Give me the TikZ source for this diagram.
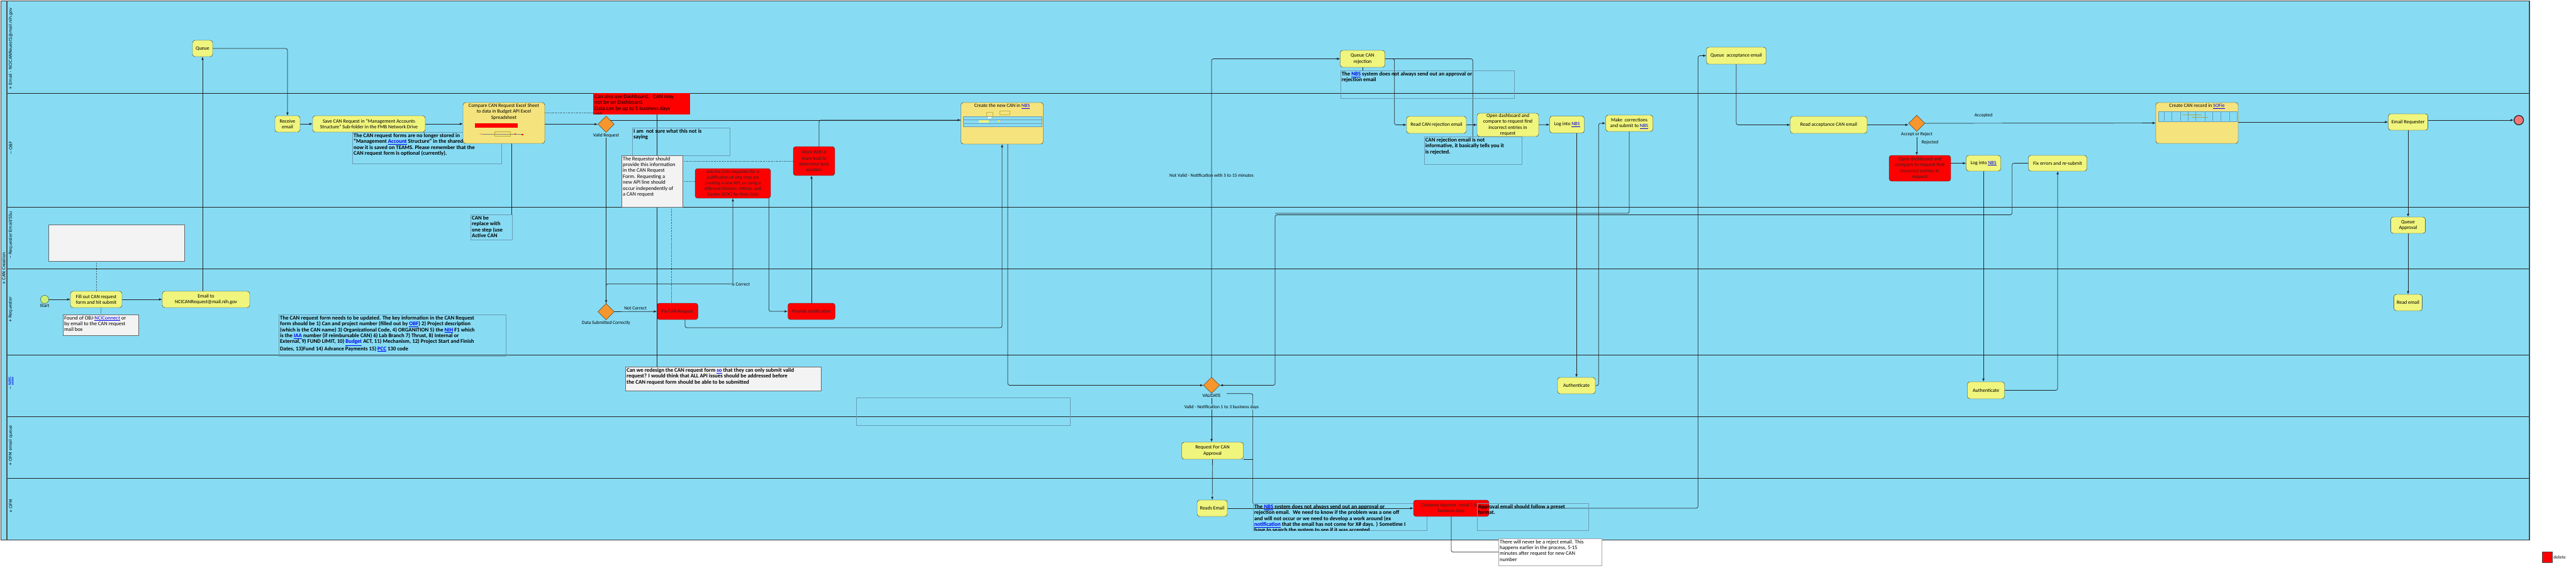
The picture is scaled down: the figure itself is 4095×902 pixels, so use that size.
\documentclass[tikz,border=0pt]{standalone}
\usepackage{fontspec}
\setmainfont{Carlito}
\newfontfamily\lanefont{DejaVu Sans}
\usetikzlibrary{shapes.geometric}
\tikzset{>=latex}
\pgfdeclarelayer{lanes}
\pgfdeclarelayer{edges}
\pgfsetlayers{lanes,edges,main}
\definecolor{laneblue}{RGB}{135,220,244}
\definecolor{taskyellow}{RGB}{240,245,125}
\definecolor{subyellow}{RGB}{245,228,125}
\definecolor{gateorange}{RGB}{247,150,45}
\definecolor{notegray}{RGB}{105,155,180}
\definecolor{notefill}{RGB}{243,243,243}
\definecolor{linkblue}{RGB}{0,0,238}
\definecolor{linecol}{RGB}{35,35,35}
\definecolor{startgreen}{RGB}{200,240,120}
\definecolor{endpink}{RGB}{240,120,120}
\newcommand{\lnk}[1]{\textcolor{linkblue}{\underline{#1}}}
\newcommand{\taskfont}{\fontsize{8}{9.3}\selectfont}
\newcommand{\redfont}{\fontsize{7.6}{9.2}\selectfont}
\newcommand{\notefont}{\bfseries\fontsize{8.8}{9.4}\selectfont}
\newcommand{\plainnotefont}{\fontsize{8.5}{9.4}\selectfont}
\newcommand{\edgefont}{\fontsize{7.5}{8}\selectfont}
\tikzset{
  task/.style={draw=linecol, fill=taskyellow, rounded corners=4pt, align=center, font=\taskfont, inner sep=1pt},
  redtask/.style={task, fill=red, text=black!85, font=\redfont},
  subproc/.style={task, fill=subyellow},
  sz/.style 2 args={minimum width=#1, minimum height=#2},
  gate/.style={diamond, draw=linecol, fill=gateorange, minimum width=26, minimum height=26, inner sep=0},
  glabel/.style={font=\edgefont, inner sep=1pt, fill=laneblue},
  elabel/.style={font=\edgefont, inner sep=1pt},
  note/.style={draw=notegray, anchor=north west, inner sep=0},
  graynote/.style={note, draw=black!60, fill=notefill},
  ntext/.style={anchor=north west, align=left, inner sep=2pt, font=\notefont},
  ptext/.style={ntext, font=\plainnotefont},
  flow/.style={->, draw=linecol, line width=.7pt, rounded corners=3pt},
  conn/.style={draw=linecol, line width=.7pt, rounded corners=3pt},
  assoc/.style={draw=linecol, line width=.6pt, dotted},
  thumb/.style={draw=notegray, fill=laneblue, line width=.4pt},
  lanelabel/.style={rotate=90, anchor=west, inner sep=0, font=\lanefont\fontsize{6.5}{7}\selectfont},
}

\begin{document}
\begin{tikzpicture}[x=1pt,y=-1pt]
\useasboundingbox (0,0) rectangle (4095,902);
% pool and lanes
\begin{pgfonlayer}{lanes}
	\fill[laneblue] (1,1) rectangle (4021,858);
	\foreach \y in {148,329,427,564,662,760}
		\draw[linecol] (11,\y) -- (4021,\y);
	\draw[linecol!90, line width=1pt] (1,1) rectangle (4021,858);
	\draw[linecol!80, line width=1.5pt] (11,1) -- (11,858);
	\draw[black!70, line width=2pt] (4021,1) -- (4021,858);
\end{pgfonlayer}
\node[lanelabel] (pool) at (6,453) {+ CAN Creation};
\node[lanelabel] (l-email) at (17,143) {+ Email - NCICANReuest1@mail.nih.gov};
\node[lanelabel] (l-obf) at (17,246) {− OBF};
\node[lanelabel] (l-ssu) at (17,412) {− Requester Email/SSu};
\node[lanelabel] (l-req) at (17,513) {+ Requester};
\node[lanelabel] (l-nbs) at (17,620) {− \lnk{NBS}};
\node[lanelabel] (l-ofmq) at (17,741) {+ OFM email queue};
\node[lanelabel] (l-ofm) at (17,816) {+ OFM};

% notes
\node[note, sz={237}{50}] (nstored) at (560,210) {};
\node[ntext] (nstored-t) at (nstored.north west) {The CAN request forms are no longer stored in\\``Management \lnk{Account} Structure'' in the shared drive,\\now it is saved on TEAMS. Please remember that the\\CAN request form is optional (currently).};
\node[graynote, sz={216}{58}] (nblank) at (77,357) {};
\node[note, sz={66}{40}] (nreplace) at (748,341) {};
\node[ntext] (nreplace-t) at (nreplace.north west) {CAN be\\replace with\\one step (use\\Active CAN};
\node[graynote, sz={120}{33}] (nfound) at (100,500) {};
\node[ptext] (nfound-t) at (nfound.north west) {Found of OBJ-\lnk{NCiConnect} or\\by email to the CAN request\\mail box};
\node[note, sz={361}{66}] (nkey) at (443,500) {};
\node[ntext] (nkey-t) at (nkey.north west) {The CAN request form needs to be updated. The key information in the CAN Request\\form should be 1) Can and project number (filled out by \lnk{OBF}) 2) Project description\\(which is the CAN name) 3) Organizational Code, 4) ORGANITION 5) the \lnk{NIH} F1 which\\is the \lnk{IAA} number (if reimbursable CAN) 6) Lab Branch 7) Thrust, 8) Internal or\\External, 9) FUND LIMIT, 10) \lnk{Budget} ACT, 11) Mechanism, 12) Project Start and Finish\\Dates, 13)Fund 14) Advance Payments 15) \lnk{PCC} 130 code};
\node[note, draw=red, fill=red, sz={153}{33}] (ndash) at (943,148) {};
\begin{scope}
	\clip (ndash.north west) rectangle (ndash.south east);
	\node[ptext, font=\fontsize{8.8}{9.4}\selectfont] (ndash-t) at (ndash.north west) {Can also use Dashboard.~~~CAN may\\not be on Dashboard.\\Data can be up to 5 business days\\old.};
\end{scope}
\node[note, sz={155}{44}] (nnotsure) at (1005,203) {};
\node[ntext] (nnotsure-t) at (nnotsure.north west) {I am~ not sure what this not is\\saying};
\node[graynote, sz={97}{82}] (nrequestor) at (988,247) {};
\node[ptext] (nrequestor-t) at (nrequestor.north west) {The Requestor should\\provide this information\\in the CAN Request\\Form. Requesting a\\new API line should\\occur independently of\\a CAN request};
\node[graynote, sz={311}{38}] (nredesign) at (994,583) {};
\node[ntext] (nredesign-t) at (nredesign.north west) {Can we redesign the CAN request form \lnk{so} that they can only submit valid\\request? I would think that ALL API issues should be addressed before\\the CAN request form should be able to be submitted};
\node[note, sz={340}{44}] (nempty) at (1361,632) {};
\node[note, sz={276}{44}] (nnbs1) at (2130.6,112) {};
\node[ntext] (nnbs1-t) at (nnbs1.north west) {The \lnk{NBS} system does not always send out an approval or\\rejection email};
\node[note, sz={155}{44}] (nrejinfo) at (2263.6,217) {};
\node[ntext] (nrejinfo-t) at (nrejinfo.north west) {CAN rejection email is not\\informative, it basically tells you it\\is rejected.};
\node[note, sz={276}{43}] (nnbs2) at (1991.6,800) {};
\begin{scope}
	\clip (nnbs2.north west) rectangle (nnbs2.south east);
	\node[ntext] (nnbs2-t) at (nnbs2.north west) {The \lnk{NBS} system does not always send out an approval or\\rejection email.~ We need to know if the problem was a one off\\and will not occur or we need to develop a work around (ex\\\lnk{notification} that the email has not come for X\# days. ) Sometime I\\have to search the system to see if it was accepted};
\end{scope}
\node[note, draw=black!35, fill=white, sz={164}{43}] (nnever) at (2382,856) {};
\node[ptext] (nnever-t) at (nnever.north west) {There will never be a reject email. This\\happens earlier in the process, 5-15\\minutes after request for new CAN\\number};

% requester
\node[circle, draw=linecol, fill=startgreen, minimum size=13, inner sep=0, label={[elabel]below:Start}] (start) at (71,476) {};
\node[task, sz={82}{26}] (fillout) at (153,476) {Fill out CAN request\\form and hit submit};
\node[task, sz={139}{26}] (emailto) at (327.5,476) {Email to\\NCICANRequest@mail.nih.gov};
\node[gate, label={[glabel]below:Data Submitted Correctly}] (dsc) at (963.5,495.5) {};
\node[redtask, sz={65}{26}] (fixcan) at (1077,495) {Fix CAN Request};
\node[redtask, sz={75}{26}] (provide) at (1290,495) {Provide Justification};
\node[task, sz={45}{26}] (readmail) at (3828,481) {Read email};

% email queue
\node[task, sz={32}{26}] (queue) at (322,77) {Queue};
\node[task, sz={71}{27}] (qrej) at (2166,93.5) {Queue CAN\\rejection};
\node[task, sz={95}{27}] (qacc) at (2760,88.5) {Queue~ acceptance email};

% OBF
\node[task, sz={40}{26}] (recv) at (457,197) {Receive\\email};
\node[task, sz={179}{26}] (save) at (586.5,197) {Save CAN Request in ``Management Accounts\\Structure'' Sub-folder in the FMB Network Drive};
\node[subproc, sz={130}{65}] (compare) at (801,195.5) {};
\node[font=\taskfont, align=center, anchor=north, inner sep=1pt] (compare-t) at ([yshift=-1]compare.north) {Compare CAN Request Excel Sheet\\to data in Budget API Excel\\Spreadsheet};
\fill[red] (754.5,196) rectangle (822.8,203);
\draw[gateorange, line width=.4pt] (764,213) circle (1.3);
\draw[black!50, line width=.3pt] (766,213) -- (830,213);
\draw[olive!70, line width=.3pt] (786,209.5) rectangle (811,216);
\fill[red] (819,213) circle (1.2);
\fill[red] (829,213) rectangle (832,215);
\node[gate, label={[glabel]below:Valid Request}] (vreq) at (963.5,197.5) {};
\node[redtask, sz={66}{46}] (work) at (1294,256) {Work With X\\team lead to\\determine best\\solution};
\node[redtask, sz={120}{47}, font=\fontsize{7.4}{9.2}\selectfont] (ask) at (1165,291.5) {Ask the CAN requester for a\\justification of why they are\\creating a new API, or using a\\different Division, Offices, and\\Center (DOC) for their CAN};
\node[subproc, sz={131}{66}] (newcan) at (1593,196) {};
\node[font=\taskfont, anchor=north, inner sep=1pt] (newcan-t) at ([yshift=-1]newcan.north) {Create the new CAN in \lnk{NBS}};
\draw[thumb] (1531,185) rectangle (1656,201);
\draw[notegray, line width=.3pt] (1531,190) -- (1656,190) (1531,196) -- (1656,196);
\draw[olive!60, line width=.3pt] (1568,178) rectangle (1578,186) (1589,176) rectangle (1605,182);
\fill[taskyellow] (1556,191) rectangle (1572,195);
\fill[white] (1570,186) rectangle (1576,188);
\fill[taskyellow!80!orange] (1586,191) rectangle (1590,194);
\node[task, sz={95}{27}] (readrej) at (2283.5,198.5) {Read CAN rejection email};
\node[task, sz={98}{37}] (opendb) at (2397,198.5) {Open dashboard and\\compare to request find\\incorrect entries in\\request};
\node[task, sz={55}{27}] (login1) at (2491,198) {Log into \lnk{NBS}};
\node[task, sz={75}{26}] (makecor) at (2590,196) {Make~ corrections\\and submit to \lnk{NBS}};
\node[task, sz={122}{27}] (readacc) at (2907,198.5) {Read acceptance CAN email};
\node[gate, label={[glabel]below:Accept or Reject}] (accrej) at (3047,196) {};
\node[redtask, sz={98}{41}, font=\taskfont] (opendb2) at (3052,267.5) {Open dashboard and\\compare to request find\\incorrect entries in\\request};
\node[task, sz={55}{25}] (login2) at (3153,259.5) {Log into \lnk{NBS}};
\node[task, sz={93}{25}] (fixerr) at (3271,259.5) {Fix errors and re-submit};
\node[subproc, sz={131}{65}] (sofie) at (3492.5,195.5) {};
\node[font=\taskfont, anchor=north, inner sep=1pt] (sofie-t) at ([yshift=-1]sofie.north) {Create CAN record in \lnk{SOFie}};
\draw[thumb] (3431,177) rectangle (3556,193);
\foreach \x in {3440,3452,3466,3478,3490,3505,3517,3530,3544}
	\draw[notegray, line width=.3pt] (\x,178) -- (\x,192);
\draw[olive!70, line width=.3pt] (3470,182) -- (3500,182) (3484,186) -- (3510,186);
\node[task, sz={63}{26}] (emailreq) at (3828,194) {Email Requester};
\node[circle, draw=linecol, line width=1.2pt, fill=endpink, minimum size=15, inner sep=0] (endev) at (4004,191) {};

% SSu, NBS, OFM
\node[task, sz={55}{26}] (qappr) at (3828,358) {Queue\\Approval};
\node[gate, label={[glabel]below:VALIDATE}] (validate) at (1926,612.5) {};
\node[task, sz={60}{26}] (auth1) at (2506,613) {Authenticate};
\node[task, sz={59}{27}] (auth2) at (3157,620.5) {Authenticate};
\node[task, sz={98}{27}] (reqappr) at (1927.5,716.5) {Request For CAN\\Approval};
\node[task, sz={48}{26}] (readsem) at (1927,808) {Reads Email};
\node[redtask, sz={120}{26}] (compose) at (2307,808) {Compose Approve~ email 1 to 2\\buisness days};
\node[note, sz={177.5}{43}] (napproval) at (2347.5,800) {};
\node[ntext] (napproval-t) at (napproval.north west) {Approval email should follow a preset\\format.};

% connector labels
\node[elabel] (lnotcor) at (1010,490) {Not Correct};
\node[glabel] (liscor) at (1177.5,452) {Is Correct};
\node[elabel] (lnotvalid) at (1926,279) {Not Valid - Notification with 5 to 15 minutes};
\node[glabel] (lvalid) at (1942,647) {Valid - Notification 1 to 3 business days};
\node[elabel] (lacc) at (3153,183) {Accepted};
\node[elabel] (lrej) at (3068,227) {Rejected};

\coordinate (fixdn) at (1089,521);
\coordinate (resub) at (3198.6,341.5);
\coordinate (retrn) at (2027,341.5);
\begin{pgfonlayer}{edges}
	\draw[flow] (start) -- (fillout);
	\draw[flow] (fillout) -- (emailto);
	\draw[flow] (emailto.north -| queue.south) -- (queue.south);
	\draw[flow] (queue.east) -| (recv.north);
	\draw[flow] (recv) -- (save);
	\draw[flow] (save.east) -- (save.east -| compare.west);
	\draw[flow] (compare.east |- vreq.west) -- (vreq.west);
	\draw[flow] (vreq.north east) -- (vreq.north east -| newcan.west);
	\draw[conn] ([xshift=8]work.north) |- (vreq.north east -| newcan.west);
	\draw[flow] (vreq) -- (dsc);
	\draw[flow] (dsc.north) -- ++(0,-31) -| (ask.south);
	\draw[flow] (dsc) -- (fixcan);
	\draw[flow] (fixcan.south -| fixdn) -- (fixdn) -| (newcan.south);
	\draw[flow] ([xshift=-3]ask.south east) |- (provide.west);
	\draw[flow] (provide.north) -- (provide.north |- work.south);
	\draw[flow] ([xshift=9]newcan.south) |- (validate.west);
	\draw[flow] (validate.north) |- (qrej.west);
	\draw[flow] (validate.south) -- (validate.south |- reqappr.north);
	\draw[flow] (reqappr) -- (readsem);
	\draw[flow] (readsem) -- (compose);
	\draw[flow] (compose.east) -| ([xshift=-13]qacc.west) -- (qacc.west);
	\draw[conn] (compose.south) |- (nnever.west);
	\draw[flow] (qacc.south) |- (readacc.west);
	\draw[flow] (readacc.east) -- (readacc.east -| accrej.west);
	\draw[flow] (accrej) -- (sofie);
	\draw[flow] (accrej.south) -- (accrej.south |- opendb2.north);
	\draw[flow] (opendb2.east |- login2) -- (login2.west);
	\draw[flow] (login2.south) -- (login2.south |- auth2.north);
	\draw[flow] (auth2.east) -| (fixerr.south);
	\draw[flow] (fixerr.west) -| (resub) -- (retrn) |- (validate.east);
	\draw[conn] (makecor.south) |- ([yshift=2.5]retrn);
	\draw[flow] (auth1.east) -- ++(5,0) |- (makecor.west);
	\draw[flow] (auth1.north |- login1.south) -- (auth1.north);
	\draw[flow] (opendb) -- (login1);
	\draw[flow] (readrej) -- (opendb);
	\draw[flow] (qrej.east) -- ++(15,0) |- (readrej.west);
	\draw[conn] (qrej.east) -| (nrejinfo.north);
	\draw[conn] (qrej.south) -- (qrej.south |- nnbs1.north);
	\draw[flow] (sofie.east |- emailreq.west) -- (emailreq.west);
	\draw[flow] (emailreq.east |- endev) -- (endev.west);
	\draw[flow] (emailreq) -- (qappr);
	\draw[flow] (qappr) -- (readmail);
	\draw[conn] ([xshift=24]validate.south) -| (nnbs2.north west);
	\draw[conn] (reqappr.south east) -- (reqappr.south east -| nnbs2.north west);
	\draw[conn] ([xshift=12]compare.south) -- ([xshift=12]compare.south |- nreplace.north);
	\draw[assoc] ([yshift=16.5]compare.east) -- ([yshift=16.5]compare.east -| ndash.west);
	\draw[conn] (ndash.south -| fixcan.west) -- (fixcan.west |- nredesign.north);
	\draw[assoc] ([yshift=-9]nrequestor.north east) -- ([yshift=-9]nrequestor.north east -| work.west);
	\draw[assoc] (nrequestor.east) -- (nrequestor.east -| ask.west);
	\draw[assoc] ([xshift=-10]fixcan.north |- nrequestor.south) -- ([xshift=-10]fixcan.north);
	\draw[assoc] (fillout.north) -- (fillout.north |- nblank.south);
	\draw[assoc] ([xshift=7]fillout.south) -- ([xshift=7]fillout.south |- nfound.north);
\end{pgfonlayer}

% legend
\node[draw=black!70, fill=red, minimum size=16.5, inner sep=0] (legbox) at (4049.3,885.5) {};
\node[anchor=west, inner sep=1pt, font=\bfseries\fontsize{7.5}{8}\selectfont, text=black!70] (legtext) at (legbox.east) {delete};
\end{tikzpicture}
\end{document}
